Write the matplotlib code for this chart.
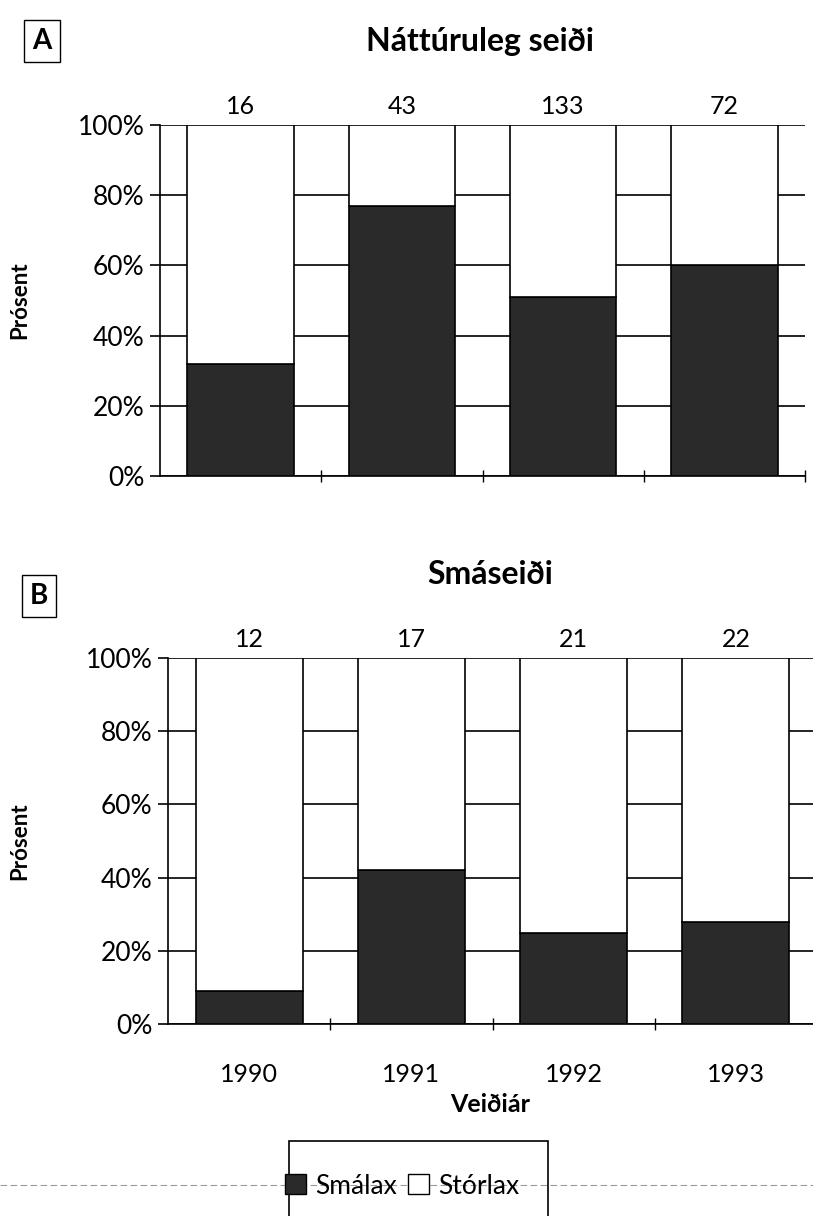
import numpy as np
import matplotlib
matplotlib.use("Agg")
import matplotlib.pyplot as plt
from matplotlib.patches import Patch, Rectangle
from matplotlib.lines import Line2D

# ---- data ----
years = ["1990", "1991", "1992", "1993"]
counts_a = [16, 43, 133, 72]
smalax_a = [32, 77, 51, 60]          # % Smálax, Náttúruleg seiði
counts_b = [12, 17, 21, 22]
smalax_b = [9, 42, 25, 28]           # % Smálax, Smáseiði
ytick_vals = [0, 20, 40, 60, 80, 100]
title_a = "Náttúruleg seiði"
title_b = "Smáseiði"
series_names = ["Smálax", "Stórlax"]

plt.rcParams["font.family"] = ["Lato", "DejaVu Sans"]
DARK = "#2a2a2a"
W, H = 813, 1216
fig = plt.figure(figsize=(W / 100, H / 100), dpi=100)
fig.patch.set_facecolor("white")


def fx(px):
    return px / W


def fy(py):
    return 1 - py / H


def panel(rect, smalax, counts, show_years):
    ax = fig.add_axes(rect)
    x = np.arange(len(smalax))
    sm = np.array(smalax, dtype=float)
    st = 100 - sm
    ax.bar(x, sm, width=0.66, color=DARK, edgecolor="black", linewidth=1.2, zorder=3)
    ax.bar(x, st, bottom=sm, width=0.66, color="white", edgecolor="black", linewidth=1.2, zorder=3)
    ax.set_xlim(-0.5, len(x) - 0.5)
    ax.set_ylim(0, 100)
    ax.set_yticks(ytick_vals)
    ax.set_yticklabels([f"{v}%" for v in ytick_vals], fontsize=19)
    ax.yaxis.grid(True, color="black", linewidth=1.2)
    ax.set_axisbelow(True)
    for s in ["top", "right"]:
        ax.spines[s].set_visible(False)
    ax.spines["left"].set_linewidth(1.2)
    ax.spines["bottom"].set_linewidth(1.2)
    ax.tick_params(axis="y", direction="out", length=7, width=1.2, pad=4)
    ax.set_xticks(np.arange(len(x)) + 0.5)
    ax.set_xticklabels([])
    ax.tick_params(axis="x", which="major", direction="inout", length=9, width=1.0)
    if show_years:
        ax.set_xticks(x, minor=True)
        ax.set_xticklabels(years, minor=True, fontsize=18)
        ax.tick_params(axis="x", which="minor", length=0, pad=28)
    for i, c in zip(x, counts):
        ax.text(i, 102, str(c), ha="center", va="bottom", fontsize=18, clip_on=False)
    ax.set_ylabel("Prósent", fontsize=16, fontweight="bold", labelpad=0)
    ax.patch.set_alpha(0)
    return ax


axA = panel([fx(160), fy(476), fx(805 - 160), (476 - 125) / H], smalax_a, counts_a, False)
axB = panel([fx(168), fy(1024), fx(817 - 168), (1024 - 658) / H], smalax_b, counts_b, True)

axA.yaxis.set_label_coords(fx(30 - 160) / fx(805 - 160), 0.5)
axB.yaxis.set_label_coords(fx(30 - 168) / fx(817 - 168), 0.5)

# titles
fig.text(fx(480), fy(42), title_a, ha="center", va="center", fontsize=23, fontweight="bold")
fig.text(fx(490), fy(575), title_b, ha="center", va="center", fontsize=23, fontweight="bold")

# panel letters in boxes
for letter, (px, py) in [("A", (42, 41)), ("B", (39, 596))]:
    fig.text(fx(px), fy(py), letter, ha="center", va="center", fontsize=20, fontweight="bold",
             bbox=dict(boxstyle="square,pad=0.3", facecolor="white", edgecolor="black", linewidth=1.0))

# x-axis title
fig.text(fx(490), fy(1104), "Veiðiár", ha="center", va="center", fontsize=18, fontweight="bold")

# faint scan line through legend
fig.add_artist(Line2D([0, 1], [fy(1185), fy(1185)], transform=fig.transFigure,
                      color="#9a9a9a", linestyle=(0, (6, 3)), linewidth=0.8, zorder=0))

# legend box (extends below the figure edge)
fig.add_artist(Rectangle((fx(289), fy(1240)), fx(548 - 289), (1240 - 1141) / H,
                         transform=fig.transFigure, facecolor="none", edgecolor="black",
                         linewidth=1.2, zorder=1))
handles = [Patch(facecolor=DARK, edgecolor="black", linewidth=1.0),
           Patch(facecolor="white", edgecolor="black", linewidth=1.0)]
fig.legend(handles, series_names, loc="center", bbox_to_anchor=(fx(402), fy(1186)),
           ncol=2, frameon=False, fontsize=19, handlelength=0.8, handleheight=0.8,
           handletextpad=0.35, columnspacing=0.4)

fig.savefig("out.png", dpi=100)
